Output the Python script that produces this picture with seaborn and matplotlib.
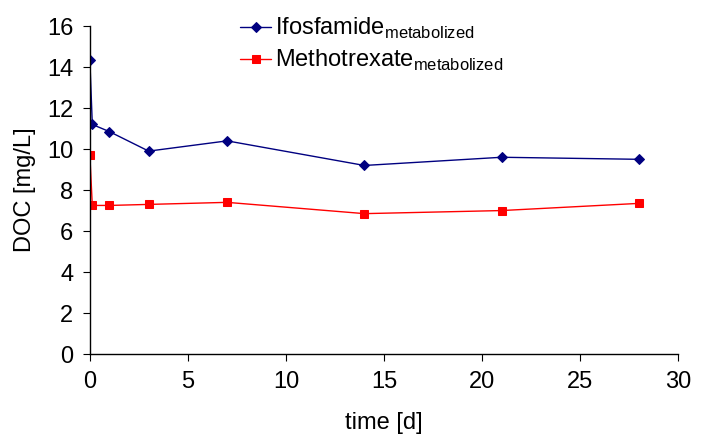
import matplotlib
matplotlib.use("Agg")
import matplotlib.pyplot as plt
import seaborn as sns
import pandas as pd

# Werte
time_d = [0, 0.125, 1, 3, 7, 14, 21, 28]
ifosfamide = [14.35, 11.2, 10.85, 9.9, 10.4, 9.2, 9.6, 9.5]
methotrexate = [9.7, 7.25, 7.25, 7.3, 7.4, 6.85, 7.0, 7.35]

sns.set_style("ticks")
plt.rcParams["font.family"] = ["Liberation Sans", "DejaVu Sans"]
plt.rcParams["mathtext.fontset"] = "custom"
plt.rcParams["mathtext.rm"] = "Liberation Sans"
plt.rcParams["text.color"] = "black"
plt.rcParams["axes.labelcolor"] = "black"
plt.rcParams["xtick.color"] = "black"
plt.rcParams["ytick.color"] = "black"

df = pd.DataFrame({"time": time_d, "ifo": ifosfamide, "mtx": methotrexate})

fig = plt.figure(figsize=(7.02, 4.42), dpi=100)
ax = fig.add_axes([0.128, 0.199, 0.838, 0.742])

sns.lineplot(data=df, x="time", y="ifo", ax=ax, color="#000080", marker="D",
             markersize=5, markeredgecolor="#000080", linewidth=1,
             label=r"Ifosfamide$_{\mathrm{metabolized}}$")
sns.lineplot(data=df, x="time", y="mtx", ax=ax, color="#ff0000", marker="s",
             markersize=6, markeredgecolor="#ff0000", linewidth=1,
             label=r"Methotrexate$_{\mathrm{metabolized}}$")

ax.set_xlim(0, 30)
ax.set_ylim(0, 16)
ax.set_xticks(range(0, 31, 5))
ax.set_yticks(range(0, 17, 2))
ax.tick_params(labelsize=17, direction="out", length=5, color="black",
               labelcolor="black", pad=7)
ax.set_xlabel("time [d]", fontsize=17, labelpad=14, color="black")
ax.set_ylabel("DOC [mg/L]", fontsize=17, labelpad=8, color="black")
sns.despine(ax=ax)
for s in ["left", "bottom"]:
    ax.spines[s].set_color("black")
    ax.spines[s].set_linewidth(1)

ax.legend(loc="upper left", bbox_to_anchor=(0.24, 1.06), frameon=False,
          fontsize=17, handlelength=1.3, handletextpad=0.15, labelspacing=0.3,
          borderaxespad=0)

fig.savefig("out.png", dpi=100)
